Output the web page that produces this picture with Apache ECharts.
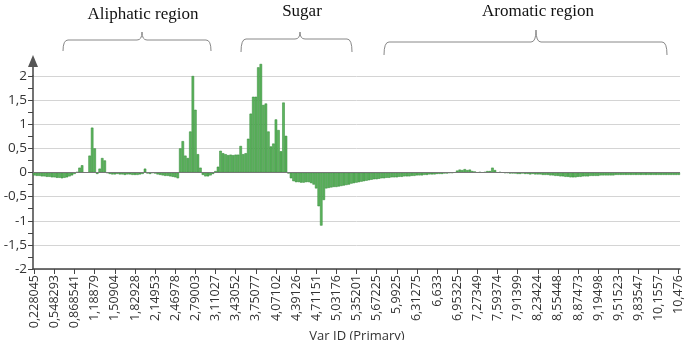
<!DOCTYPE html>
<html>
<head>
<meta charset="utf-8">
<script src="https://cdn.jsdelivr.net/npm/echarts@6/dist/echarts.min.js"></script>
<style>
  html, body { margin: 0; padding: 0; background: #fff; }
  #chart { width: 685px; height: 340px; }
</style>
</head>
<body>
<div id="chart"></div>
<script>
// tick labels on the x axis (ppm), one every 8 bins
var tickLabels = ['0,228045', '0,548293', '0,868541', '1,18879', '1,50904', '1,82928', '2,14953',
  '2,46978', '2,79003', '3,11027', '3,43052', '3,75077', '4,07102', '4,39126', '4,71151',
  '5,03176', '5,35201', '5,67225', '5,9925', '6,31275', '6,633', '6,95325', '7,27349',
  '7,59374', '7,91399', '8,23424', '8,55448', '8,87473', '9,19498', '9,51523', '9,83547',
  '10,1557', '10,476'];

// loadings per bin
var loadings = [
  -0.06, -0.07, -0.07, -0.08, -0.08, -0.09, -0.09, -0.1, -0.1, -0.11,
  -0.11, -0.12, -0.11, -0.1, -0.08, -0.06, -0.03,
  0.01, 0.1, 0.15, 0.0, 0.0, 0.35, 0.93, 0.5, -0.03, 0.08, 0.3, 0.25, -0.01,
  -0.03, -0.04, -0.04, -0.03, -0.04, -0.04, -0.05, -0.04, -0.04, -0.05, -0.05, -0.05, -0.04, -0.03,
  0.08, -0.02, -0.03, -0.01, -0.02, -0.04,
  -0.05, -0.06, -0.07, -0.07, -0.08, -0.09, -0.1, -0.12,
  0.5, 0.65, 0.35, 0.3, 0.85, 2.0, 1.3, 0.38, 0.1,
  -0.05, -0.08, -0.08, -0.06, -0.03, 0.03, 0.12,
  0.45, 0.4, 0.38, 0.36, 0.37, 0.36, 0.37, 0.37,
  0.55, 0.38, 0.4, 0.7, 1.22, 1.57, 1.57, 2.18, 2.25, 1.4,
  1.43, 0.85, 0.54, 0.6, 1.1, 0.88, 0.44, 1.45, 0.76,
  -0.02, -0.12, -0.18, -0.2, -0.2, -0.21, -0.21, -0.2, -0.2, -0.22,
  -0.25, -0.33, -0.7, -1.1, -0.57,
  -0.33, -0.32, -0.31, -0.3, -0.3, -0.29, -0.28, -0.27, -0.26, -0.25,
  -0.23, -0.22, -0.21, -0.2, -0.19, -0.18, -0.17, -0.16, -0.15, -0.14, -0.14, -0.13,
  -0.12, -0.12, -0.11, -0.11, -0.1, -0.1, -0.1, -0.09, -0.09, -0.08,
  -0.08, -0.08, -0.07, -0.07, -0.06, -0.06, -0.06, -0.05, -0.05, -0.04,
  -0.04, -0.04, -0.03, -0.03, -0.03, -0.02, -0.02, -0.01, -0.01, 0.0,
  0.04, 0.06, 0.05, 0.07, 0.05, 0.06, 0.03, 0.02,
  0.0, 0.01, 0.0, 0.01, 0.03, 0.03, 0.1, 0.05, 0.0, 0.01, 0.0, -0.01, -0.01, -0.02,
  -0.02, -0.02, -0.03, -0.03, -0.02, -0.03, -0.03, -0.04, -0.03, -0.04, -0.04, -0.04, -0.05, -0.05,
  -0.05, -0.06, -0.06, -0.07, -0.07, -0.08, -0.08, -0.09, -0.09, -0.1,
  -0.1, -0.1, -0.09, -0.09, -0.08, -0.08,
  -0.08, -0.07, -0.07, -0.07, -0.07, -0.06, -0.06, -0.06, -0.06, -0.06,
  -0.06, -0.05, -0.05, -0.05, -0.05, -0.05, -0.05, -0.05, -0.05, -0.05,
  -0.05, -0.05, -0.05, -0.05, -0.05, -0.05, -0.05, -0.05, -0.05, -0.05,
  -0.05, -0.05, -0.05, -0.05, -0.05, -0.05, -0.05
];

var regionNames = ['Aliphatic region', 'Sugar', 'Aromatic region'];
var axisTitle = 'Var ID (Primary)';

var categories = loadings.map(function (v, i) { return String(i); });

var braceStyle = { stroke: '#888', lineWidth: 1, fill: null };

// curly brace over a region, made of lines and quadratic curves
function brace(x0, x1, xm, y, yEnd, yTop) {
  var r = 5;
  var parts = [
    { type: 'bezierCurve', shape: { x1: x0, y1: yEnd, cpx1: x0, cpy1: y, x2: x0 + r, y2: y } },
    { type: 'line', shape: { x1: x0 + r, y1: y, x2: xm - r, y2: y } },
    { type: 'bezierCurve', shape: { x1: xm - r, y1: y, cpx1: xm, cpy1: y, x2: xm, y2: yTop } },
    { type: 'bezierCurve', shape: { x1: xm, y1: yTop, cpx1: xm, cpy1: y, x2: xm + r, y2: y } },
    { type: 'line', shape: { x1: xm + r, y1: y, x2: x1 - r, y2: y } },
    { type: 'bezierCurve', shape: { x1: x1 - r, y1: y, cpx1: x1, cpy1: y, x2: x1, y2: yEnd } }
  ];
  parts.forEach(function (p) { p.style = braceStyle; p.silent = true; });
  return parts;
}

function regionLabel(x, y, text) {
  return {
    type: 'text', x: x, y: y, silent: true,
    style: { text: text, fontFamily: 'Liberation Serif', fontSize: 17, fill: '#111', textAlign: 'center', textVerticalAlign: 'middle' }
  };
}

var chart = echarts.init(document.getElementById('chart'), null, { renderer: 'canvas' });

var graphics = [
  // axis arrow on top of y axis
  { type: 'line', shape: { x1: 33, y1: 76, x2: 33, y2: 64 }, style: { stroke: '#444', lineWidth: 1.5 } },
  { type: 'polygon', shape: { points: [[33, 55], [28, 67], [38, 67]] }, style: { fill: '#555' } },
  // x axis title, partly cut by the bottom edge like the source
  { type: 'text', x: 357, y: 336, silent: true,
    style: { text: axisTitle, fontFamily: 'Open Sans', fontSize: 13, fill: '#333', textAlign: 'center', textVerticalAlign: 'middle' } }
]
  .concat(brace(63, 211, 142, 40, 51, 32))
  .concat(brace(241, 352, 300, 39, 52, 32))
  .concat(brace(384, 667, 536, 42, 55, 30))
  .concat([
    regionLabel(143, 15, regionNames[0]),
    regionLabel(302, 12, regionNames[1]),
    regionLabel(538, 12, regionNames[2])
  ]);

var option = {
  backgroundColor: '#ffffff',
  animation: false,
  grid: { left: 33, right: 5, top: 76, bottom: 71, containLabel: false, outerBoundsMode: 'none' },
  xAxis: {
    type: 'category',
    data: categories,
    axisLine: { onZero: false, lineStyle: { color: '#444', width: 1.5 } },
    axisTick: { show: true, interval: 7, alignWithLabel: true, length: 5, lineStyle: { color: '#444' } },
    axisLabel: {
      interval: 7,
      rotate: 90,
      margin: 6,
      fontFamily: 'Open Sans',
      fontSize: 12.5,
      color: '#333',
      formatter: function (v, i) { return tickLabels[i / 8] || ''; }
    },
    splitLine: { show: false }
  },
  yAxis: {
    type: 'value',
    min: -2,
    max: 2,
    interval: 0.5,
    axisLine: { show: true, lineStyle: { color: '#444', width: 1.5 } },
    axisTick: { show: true, length: 5, lineStyle: { color: '#444' } },
    minorTick: { show: true, splitNumber: 2, length: 5, lineStyle: { color: '#444' } },
    axisLabel: {
      margin: 6,
      fontFamily: 'Open Sans',
      fontSize: 13.5,
      color: '#333',
      formatter: function (v) { return String(v).replace('.', ','); }
    },
    splitLine: { show: true, lineStyle: { color: '#d4d4d4', width: 1 } }
  },
  series: [{
    type: 'bar',
    data: loadings,
    clip: false,
    barCategoryGap: '0%',
    itemStyle: { color: '#5db55e', borderColor: '#2c8430', borderWidth: 0.5 },
    markLine: {
      silent: true,
      symbol: 'none',
      label: { show: false },
      lineStyle: { color: '#777', width: 1.2, type: 'solid' },
      data: [{ yAxis: 0 }]
    }
  }],
  graphic: graphics
};

chart.setOption(option);
</script>
</body>
</html>
